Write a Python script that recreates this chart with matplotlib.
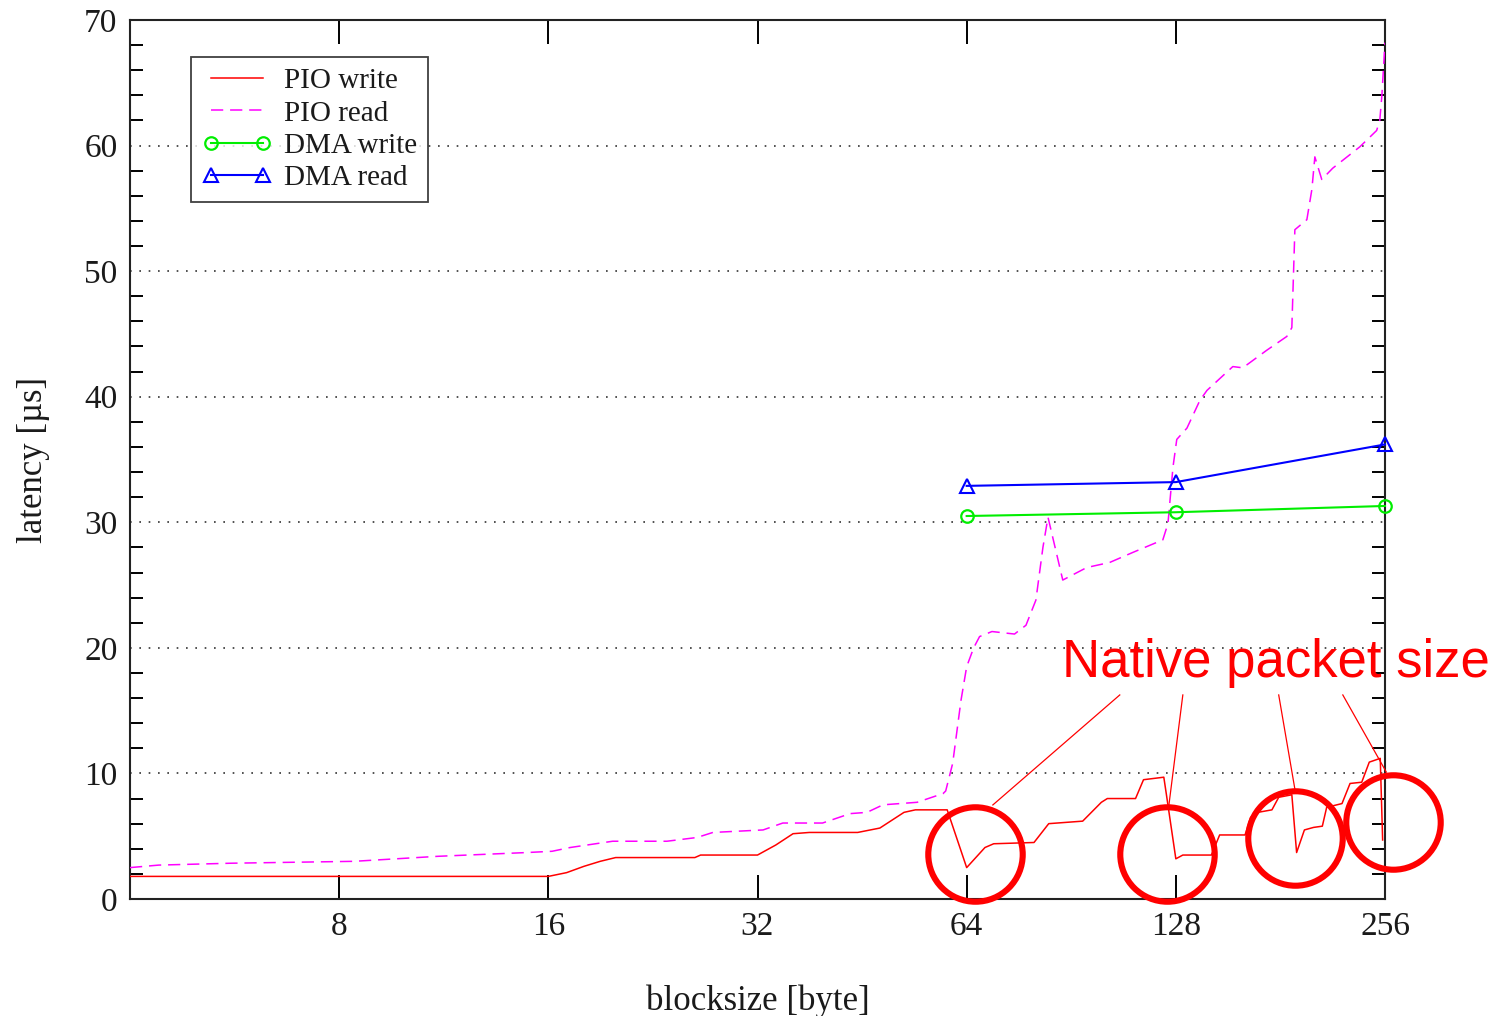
import matplotlib
matplotlib.use("Agg")
import matplotlib.pyplot as plt
from matplotlib.ticker import NullLocator

# ---------------- data ----------------
pio_write_x = [4, 16, 17, 18, 19, 20, 26, 26.5, 32, 34, 36, 38, 44.6, 48, 52, 54, 60,
               64, 68, 70, 80, 84, 94, 100, 102, 112, 115, 123, 124, 128, 131, 144, 148,
               161, 164, 168, 176, 180, 188, 191, 196, 202, 208, 211, 222, 228, 237,
               243, 252, 254]
pio_write_y = [1.8, 1.8, 2.1, 2.6, 3.0, 3.3, 3.3, 3.5, 3.5, 4.3, 5.2, 5.3, 5.3, 5.65, 6.9, 7.1, 7.1,
               2.5, 4.1, 4.4, 4.5, 6.0, 6.2, 7.7, 8.0, 8.0, 9.5, 9.7, 8.4, 3.2, 3.5, 3.5, 5.1,
               5.1, 6.5, 6.9, 7.1, 8.1, 8.3, 3.7, 5.5, 5.7, 5.8, 7.3, 7.6, 9.2, 9.3,
               10.9, 11.2, 4.7]

pio_read_x = [4, 4.4, 5.6, 8.4, 11.1, 14.9, 16.2, 17.2, 19.8, 23.7, 26.2, 27.6, 32.6, 34.8,
              39.7, 43.5, 46, 48.5, 54.3, 59.2, 59.7, 61.1, 62.8, 64, 65.5, 66.8, 69.6, 75,
              77.9, 80.5, 82.4, 83.8, 88, 95.3, 102.8, 111, 122.6, 124.7, 126.8, 128.4,
              132.8, 138.6, 141.9, 154.6, 159.8, 173, 184.9, 188, 189.9, 197.6, 200.9,
              202.9, 207.6, 215.3, 235.5, 249, 251.6, 253.3, 256]
pio_read_y = [2.5, 2.7, 2.85, 3.0, 3.4, 3.7, 3.8, 4.1, 4.6, 4.6, 4.9, 5.3, 5.5, 6.05,
              6.05, 6.8, 6.9, 7.5, 7.7, 8.4, 8.6, 10.8, 15.8, 18.5, 20.0, 20.9, 21.3, 21.1,
              21.8, 23.8, 28.0, 30.4, 25.4, 26.4, 26.8, 27.6, 28.6, 29.9, 34.4, 36.6,
              37.5, 39.7, 40.5, 42.4, 42.3, 43.7, 44.8, 45.5, 53.3, 54.1, 56.5,
              59.1, 57.3, 58.2, 59.9, 61.2, 62.0, 63.9, 68.2]

dma_x = [64, 128, 256]
dma_write_y = [30.5, 30.8, 31.3]
dma_read_y = [32.9, 33.2, 36.2]

x_ticks = [8, 16, 32, 64, 128, 256]
x_tick_labels = ["8", "16", "32", "64", "128", "256"]
y_ticks = [0, 10, 20, 30, 40, 50, 60, 70]

series_labels = ["PIO write", "PIO read", "DMA write", "DMA read"]
annotation_text = "Native packet size"
circle_x = [65.8, 124.2, 190, 262.8]
circle_y = [3.58, 3.58, 4.86, 6.13]
pointer_start_x = [106.3, 131.0, 180.0, 222.6]
pointer_start_y = [16.25, 16.25, 16.25, 16.25]
pointer_end_x = [69.8, 125.1, 190.0, 257.1]
pointer_end_y = [7.49, 7.49, 8.68, 10.11]

# ---------------- figure ----------------
serif = ["Liberation Serif", "DejaVu Serif"]
plt.rcParams["font.family"] = serif

fig = plt.figure(figsize=(15, 10.16), dpi=100)
ax = fig.add_axes([130 / 1500, 117 / 1016, 1255 / 1500, 879 / 1016])

ax.set_xscale("log", base=2)
ax.set_xlim(4, 256)
ax.set_ylim(0, 70)

# grid
for gy in y_ticks[1:-1]:
    ax.axhline(gy, color="#333333", lw=1.2, ls=(0, (1, 4.6)), zorder=1)

ax.plot(pio_write_x, pio_write_y, color="#ff0000", lw=1.1, label=series_labels[0], zorder=3)
ax.plot(pio_read_x, pio_read_y, color="#ff00ff", lw=1.1, ls=(0, (8, 4.5)),
        label=series_labels[1], zorder=3)
ax.plot(dma_x, dma_write_y, color="#00ee00", lw=1.5, marker="o", ms=9,
        mfc="none", mec="#00ee00", mew=1.6, label=series_labels[2], zorder=4, clip_on=False)
ax.plot(dma_x, dma_read_y, color="#0000ff", lw=1.5, marker="^", ms=10,
        mfc="none", mec="#0000ff", mew=1.5, label=series_labels[3], zorder=4, clip_on=False)

# ticks
ax.set_xticks(x_ticks)
ax.set_xticklabels(x_tick_labels)
ax.xaxis.set_minor_locator(NullLocator())
ax.tick_params(axis="x", which="major", direction="in", length=17, width=1.4,
               top=True, bottom=True, labelsize=24, pad=9)
ax.set_yticks(y_ticks)
ax.set_yticks([v for v in range(2, 70, 2) if v % 10 != 0], minor=True)
ax.tick_params(axis="y", which="major", direction="in", length=0, left=True, right=True,
               labelsize=24, pad=9)
ax.tick_params(axis="y", which="minor", direction="in", length=9.5, width=1.4,
               left=True, right=True)
for lab in ax.get_xticklabels() + ax.get_yticklabels():
    lab.set_color("#1a1a1a")

for s in ax.spines.values():
    s.set_linewidth(1.5)
    s.set_color("#222222")

ax.set_xlabel("blocksize [byte]", fontsize=25, color="#1a1a1a")
ax.set_ylabel("latency [µs]", fontsize=25, color="#1a1a1a")
ax.xaxis.set_label_coords(0.5, -0.097)
ax.yaxis.set_label_coords(-0.064, 0.5)

leg = ax.legend(loc="upper left", bbox_to_anchor=(0.0486, 0.958), borderaxespad=0,
                numpoints=2, fontsize=21, frameon=True, fancybox=False,
                edgecolor="#111111", handlelength=2.4, handletextpad=0.4,
                labelspacing=0.2, borderpad=0.38)
leg.get_frame().set_linewidth(1.3)
for t in leg.get_texts():
    t.set_color("#1a1a1a")

# annotation
ax.text(87.7, 17.68, annotation_text, family=["Liberation Sans", "DejaVu Sans"],
        fontsize=38, color="#ff0000", ha="left", va="baseline", clip_on=False, zorder=6)
for sx, sy, ex, ey in zip(pointer_start_x, pointer_start_y, pointer_end_x, pointer_end_y):
    ax.plot([sx, ex], [sy, ey], color="#ff0000", lw=0.9, clip_on=False, zorder=6)
ax.plot(circle_x, circle_y, ls="none", marker="o", ms=68, mfc="none", mec="#ff0000",
        mew=4.4, clip_on=False, zorder=6)

fig.savefig("out.png", dpi=100)
